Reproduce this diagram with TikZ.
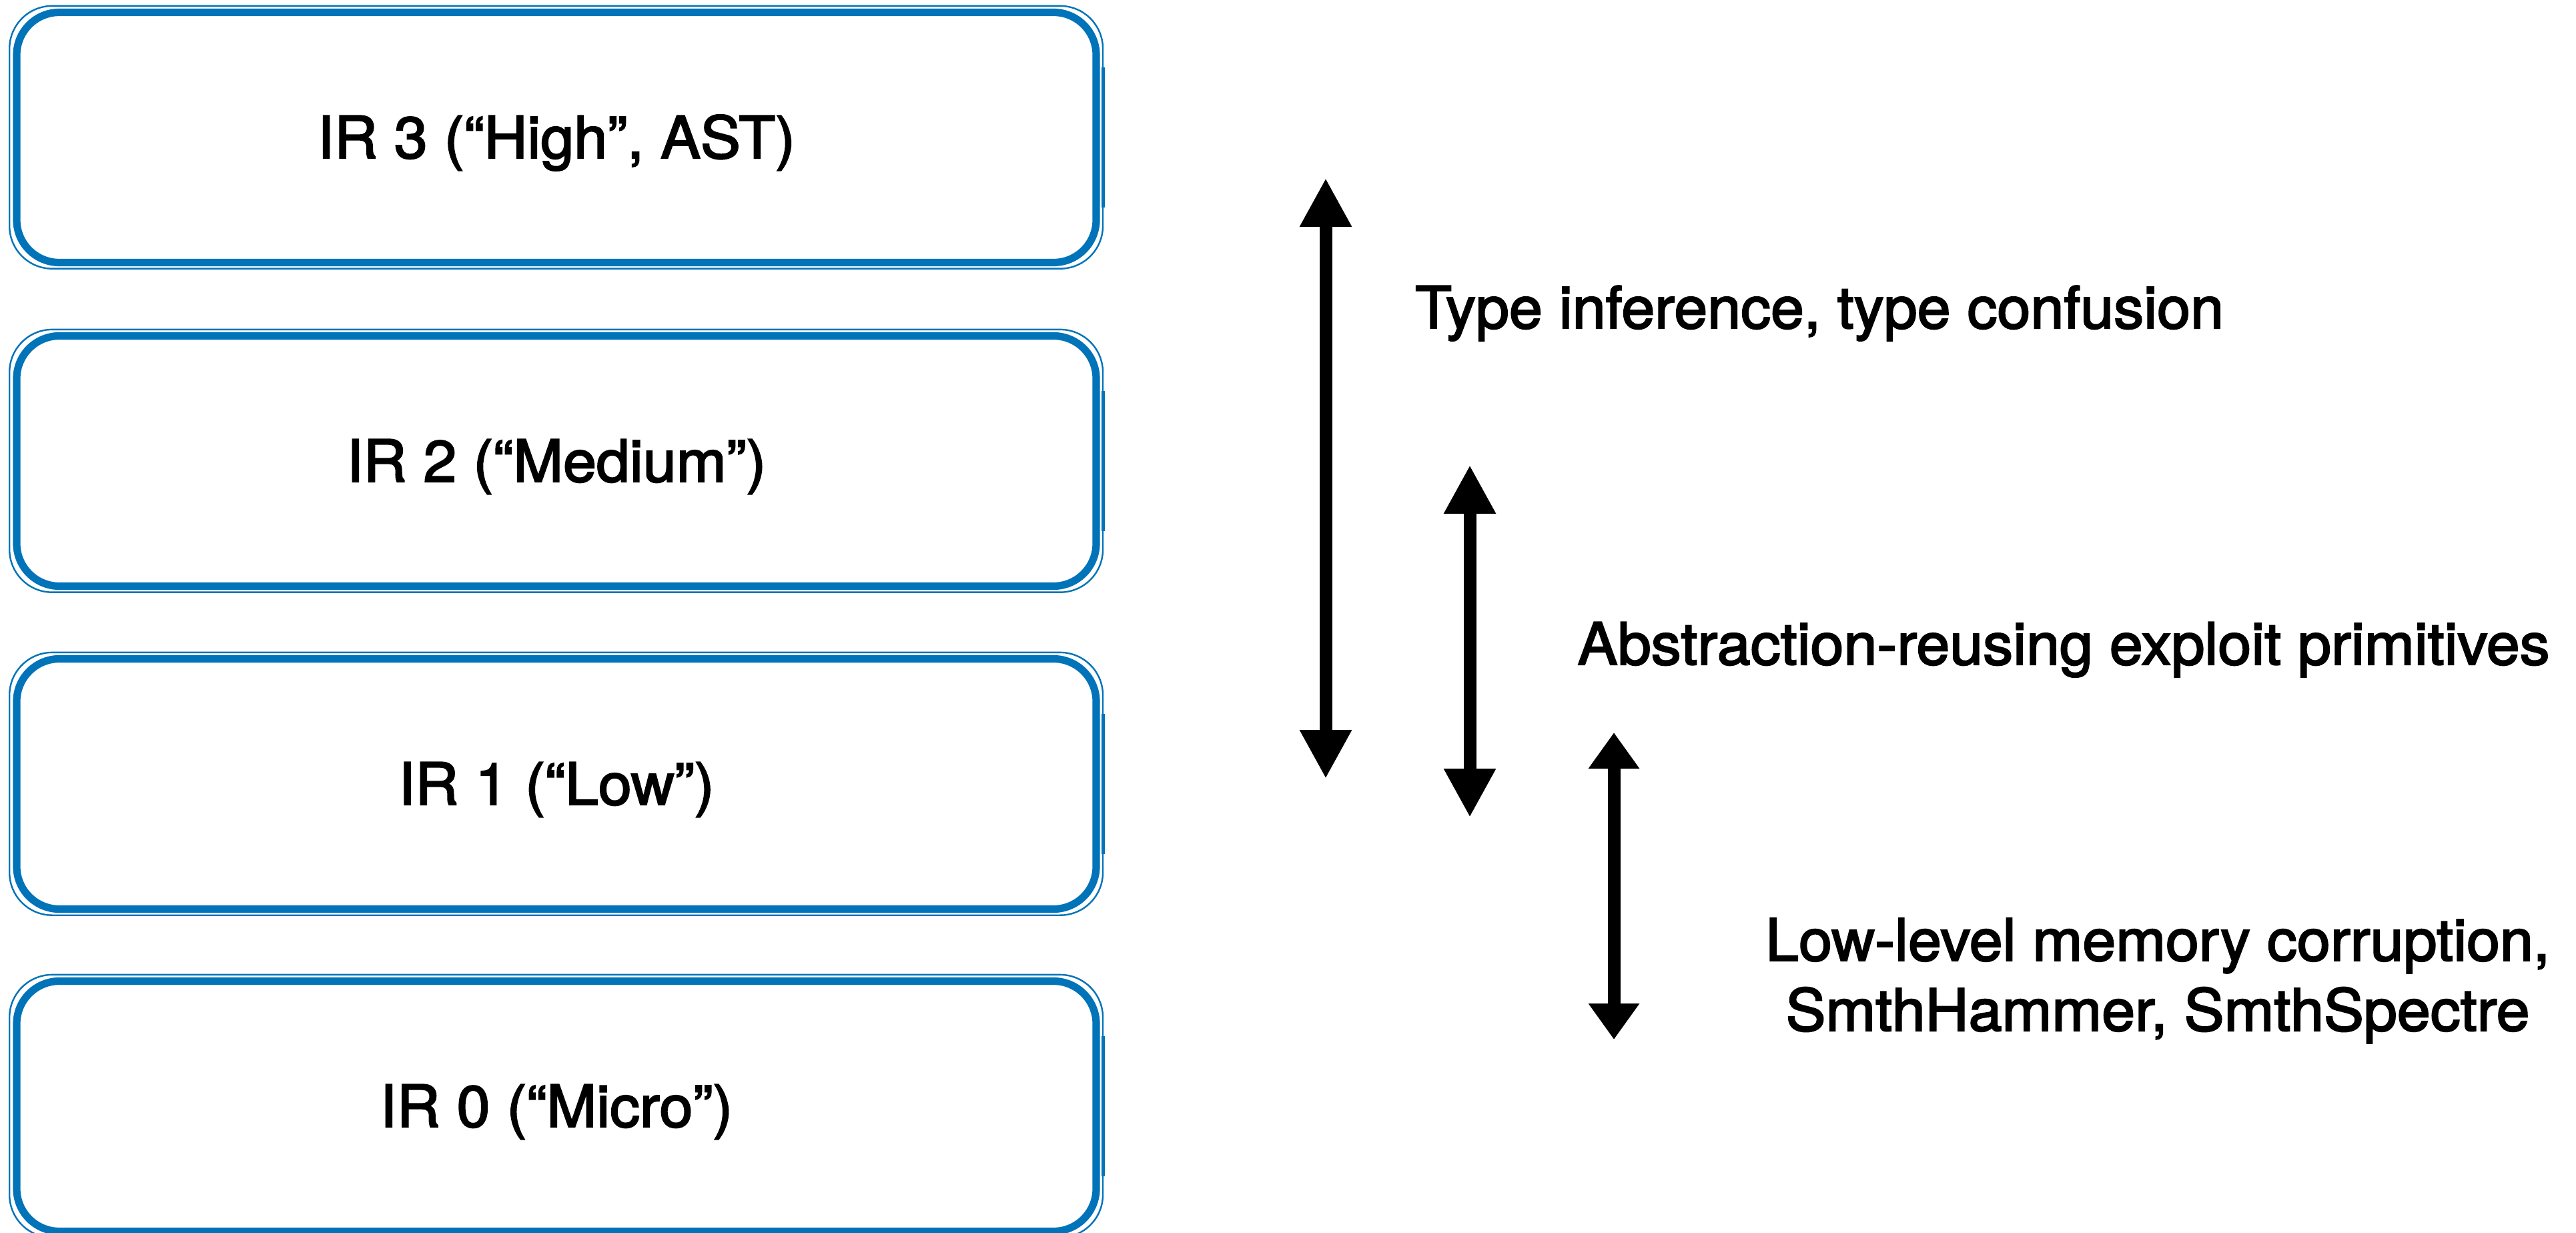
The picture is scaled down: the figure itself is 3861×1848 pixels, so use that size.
\documentclass[tikz,border=0pt]{standalone}
\usepackage{fontspec}
\setmainfont{TeX Gyre Heros}[FakeBold=2.5,FakeStretch=1.03]
\usetikzlibrary{arrows.meta}
\definecolor{irblue}{RGB}{0,115,185}
\begin{document}
\begin{tikzpicture}[x=0.25pt,y=-0.25pt,
 irbox/.style={draw=irblue, line width=2.8pt, rounded corners=16pt,
   minimum width=404.5pt, minimum height=93.75pt, inner sep=0pt,
   text height=15.5pt, text depth=0pt,
   font=\fontsize{21.8pt}{26pt}\selectfont},
 sk/.style={draw=irblue, line width=0.6pt, rounded corners=16pt},
 lbl/.style={font=\fontsize{21.8pt}{26.25pt}\selectfont, align=center, inner sep=0pt},
 dbl/.style={line width=4.75pt, {Triangle[width=18.25pt,length=18.25pt]}-{Triangle[width=18.25pt,length=18.25pt]}},
 dbls/.style={line width=4.75pt, {Triangle[width=18.25pt,length=13.5pt]}-{Triangle[width=18.25pt,length=13.5pt]}},
 ]
\useasboundingbox[fill=white] (0,0) rectangle (3861,1848);

\node[irbox] (b3) at (834,206) {IR 3 (“High”, AST)};
\node[irbox] (b2) at (834,691) {IR 2 (“Medium”)};
\node[irbox] (b1) at (834,1175) {IR 1 (“Low”)};
\node[irbox] (b0) at (834,1658) {IR 0 (“Micro”)};

\foreach \b in {b3,b2,b1,b0}{
  \draw[sk] ([xshift=-1.3pt,yshift=-0.9pt]\b.south west) rectangle ([xshift=1.1pt,yshift=1pt]\b.north east);
  \draw[sk, line width=0.45pt] ([xshift=1pt,yshift=0.7pt]\b.south west) rectangle ([xshift=-0.8pt,yshift=-0.8pt]\b.north east);
  \draw[irblue, line width=1.4pt] ([xshift=1.2pt,yshift=-22pt]\b.north east) -- ([xshift=1.2pt,yshift=22pt]\b.south east);
}

\coordinate (a1t) at (1987,267);
\coordinate (a1b) at (1987,1167);
\coordinate (a2t) at (2203,697);
\coordinate (a2b) at (2203,1225);
\coordinate (a3t) at (2419,1098);
\coordinate (a3b) at (2419,1558);
\draw[dbl] (a1t) -- (a1b);
\draw[dbl] (a2t) -- (a2b);
\draw[dbls] (a3t) -- (a3b);

\node[lbl, anchor=base] (t1) at (2727,492) {Type inference, type confusion};
\node[lbl, anchor=base] (t2) at (3093,996) {Abstraction-reusing exploit primitives};
\node[lbl] (t3) at (3234,1470) {Low-level memory corruption,\\ SmthHammer, SmthSpectre};
\end{tikzpicture}
\end{document}
